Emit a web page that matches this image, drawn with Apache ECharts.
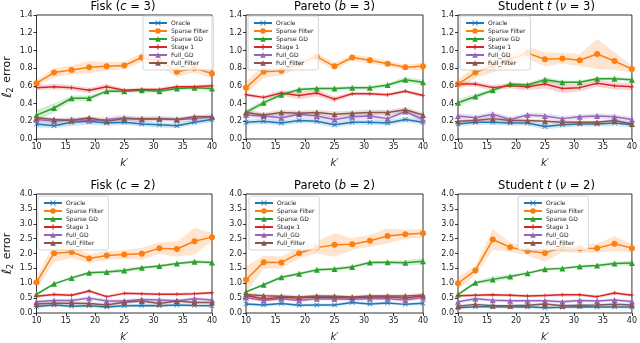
<!DOCTYPE html>
<html>
<head>
<meta charset="utf-8">
<script src="https://cdn.jsdelivr.net/npm/echarts@6/dist/echarts.min.js"></script>
<style>
  html, body { margin: 0; padding: 0; background: #fff; }
  #chart { width: 640px; height: 343px; }
</style>
</head>
<body>
<div id="chart"></div>
<script>
// k' values, shared by every panel
var kVals = [10, 13, 16, 19, 22, 25, 28, 31, 34, 37, 40];
var names = ['Oracle', 'Sparse Filter', 'Sparse GD', 'Stage 1', 'Full_GD', 'Full_Filter'];
var colors = ['#1f77b4', '#ff7f0e', '#2ca02c', '#d62728', '#9467bd', '#8c564b'];
var xTicks = [10, 15, 20, 25, 30, 35, 40];
var yTicksTop = [0, 0.2, 0.4, 0.6, 0.8, 1.0, 1.2, 1.4];
var yTicksBottom = [0, 0.5, 1.0, 1.5, 2.0, 2.5, 3.0, 3.5, 4.0];

// rows follow `names`
var fisk3 = [
  [0.17, 0.15, 0.19, 0.20, 0.18, 0.19, 0.17, 0.16, 0.15, 0.19, 0.22],
  [0.63, 0.75, 0.78, 0.81, 0.82, 0.83, 0.92, 0.88, 0.76, 0.80, 0.74],
  [0.27, 0.35, 0.46, 0.46, 0.54, 0.54, 0.55, 0.54, 0.57, 0.58, 0.57],
  [0.58, 0.59, 0.58, 0.55, 0.59, 0.55, 0.56, 0.56, 0.59, 0.59, 0.60],
  [0.22, 0.20, 0.22, 0.21, 0.22, 0.24, 0.22, 0.23, 0.22, 0.23, 0.25],
  [0.24, 0.22, 0.21, 0.24, 0.20, 0.23, 0.23, 0.23, 0.22, 0.25, 0.25]
];
var fisk3Band = [
  [0.04, 0.03, 0.04, 0.04, 0.03, 0.03, 0.03, 0.03, 0.03, 0.03, 0.03],
  [0.04, 0.05, 0.05, 0.07, 0.05, 0.04, 0.05, 0.05, 0.06, 0.05, 0.06],
  [0.06, 0.05, 0.03, 0.03, 0.02, 0.02, 0.02, 0.02, 0.02, 0.02, 0.03],
  [0.03, 0.03, 0.03, 0.03, 0.03, 0.02, 0.02, 0.02, 0.02, 0.02, 0.02],
  [0.03, 0.03, 0.03, 0.03, 0.03, 0.03, 0.03, 0.03, 0.03, 0.03, 0.04],
  [0.02, 0.02, 0.02, 0.02, 0.02, 0.02, 0.02, 0.02, 0.02, 0.02, 0.02]
];

var pareto3 = [
  [0.19, 0.20, 0.18, 0.21, 0.20, 0.16, 0.19, 0.19, 0.18, 0.22, 0.19],
  [0.58, 0.76, 0.77, 0.85, 0.93, 0.82, 0.92, 0.89, 0.85, 0.81, 0.82],
  [0.30, 0.41, 0.50, 0.56, 0.57, 0.57, 0.58, 0.58, 0.61, 0.67, 0.64],
  [0.50, 0.47, 0.52, 0.49, 0.52, 0.45, 0.51, 0.51, 0.50, 0.54, 0.49],
  [0.27, 0.26, 0.24, 0.28, 0.26, 0.22, 0.25, 0.26, 0.23, 0.31, 0.22],
  [0.30, 0.27, 0.30, 0.29, 0.30, 0.28, 0.29, 0.30, 0.30, 0.33, 0.27]
];
var pareto3Band = [
  [0.03, 0.03, 0.03, 0.03, 0.03, 0.03, 0.03, 0.03, 0.03, 0.03, 0.03],
  [0.07, 0.07, 0.05, 0.05, 0.04, 0.04, 0.03, 0.04, 0.03, 0.03, 0.04],
  [0.03, 0.03, 0.02, 0.02, 0.02, 0.02, 0.02, 0.02, 0.02, 0.03, 0.03],
  [0.02, 0.02, 0.03, 0.04, 0.04, 0.03, 0.02, 0.02, 0.02, 0.02, 0.02],
  [0.03, 0.03, 0.03, 0.03, 0.03, 0.03, 0.03, 0.03, 0.03, 0.03, 0.03],
  [0.03, 0.03, 0.03, 0.03, 0.03, 0.03, 0.03, 0.03, 0.03, 0.03, 0.03]
];

var student3 = [
  [0.17, 0.19, 0.19, 0.18, 0.18, 0.14, 0.16, 0.17, 0.17, 0.18, 0.16],
  [0.62, 0.75, 0.83, 0.90, 0.97, 0.90, 0.91, 0.89, 0.96, 0.88, 0.79],
  [0.41, 0.48, 0.55, 0.62, 0.61, 0.67, 0.64, 0.64, 0.68, 0.68, 0.67],
  [0.62, 0.62, 0.58, 0.60, 0.59, 0.62, 0.57, 0.58, 0.63, 0.60, 0.59],
  [0.26, 0.24, 0.28, 0.22, 0.27, 0.26, 0.23, 0.25, 0.26, 0.25, 0.22],
  [0.20, 0.21, 0.23, 0.21, 0.21, 0.20, 0.19, 0.19, 0.19, 0.21, 0.17]
];
var student3Band = [
  [0.03, 0.03, 0.03, 0.03, 0.03, 0.03, 0.03, 0.03, 0.03, 0.03, 0.03],
  [0.06, 0.06, 0.08, 0.08, 0.07, 0.08, 0.06, 0.07, 0.17, 0.10, 0.04],
  [0.04, 0.03, 0.02, 0.02, 0.02, 0.03, 0.02, 0.02, 0.02, 0.02, 0.02],
  [0.03, 0.03, 0.03, 0.03, 0.04, 0.05, 0.05, 0.04, 0.04, 0.04, 0.04],
  [0.03, 0.03, 0.03, 0.03, 0.03, 0.03, 0.03, 0.03, 0.03, 0.03, 0.03],
  [0.02, 0.02, 0.02, 0.02, 0.02, 0.02, 0.02, 0.02, 0.02, 0.02, 0.02]
];

var fisk2 = [
  [0.22, 0.27, 0.23, 0.24, 0.20, 0.24, 0.25, 0.24, 0.27, 0.25, 0.24],
  [1.03, 2.01, 2.05, 1.83, 1.93, 1.97, 1.99, 2.18, 2.15, 2.41, 2.55],
  [0.63, 0.98, 1.18, 1.35, 1.38, 1.43, 1.52, 1.58, 1.66, 1.72, 1.70],
  [0.56, 0.62, 0.60, 0.74, 0.55, 0.66, 0.65, 0.63, 0.63, 0.65, 0.68],
  [0.38, 0.42, 0.42, 0.50, 0.40, 0.40, 0.45, 0.44, 0.41, 0.48, 0.44],
  [0.30, 0.33, 0.33, 0.32, 0.27, 0.36, 0.40, 0.32, 0.40, 0.35, 0.35]
];
var fisk2Band = [
  [0.05, 0.05, 0.05, 0.05, 0.05, 0.05, 0.05, 0.05, 0.05, 0.05, 0.05],
  [0.20, 0.30, 0.20, 0.15, 0.15, 0.15, 0.20, 0.20, 0.25, 0.45, 0.15],
  [0.04, 0.04, 0.05, 0.05, 0.05, 0.08, 0.05, 0.05, 0.05, 0.06, 0.05],
  [0.05, 0.05, 0.05, 0.05, 0.05, 0.05, 0.05, 0.05, 0.05, 0.05, 0.05],
  [0.06, 0.06, 0.06, 0.06, 0.06, 0.06, 0.06, 0.06, 0.06, 0.06, 0.06],
  [0.06, 0.06, 0.06, 0.06, 0.06, 0.06, 0.06, 0.06, 0.06, 0.06, 0.06]
];

var pareto2 = [
  [0.30, 0.27, 0.32, 0.26, 0.27, 0.27, 0.35, 0.30, 0.34, 0.29, 0.33],
  [1.12, 1.71, 1.70, 2.01, 2.20, 2.29, 2.31, 2.43, 2.59, 2.65, 2.68],
  [0.71, 0.95, 1.20, 1.32, 1.45, 1.48, 1.55, 1.70, 1.71, 1.69, 1.74],
  [0.60, 0.47, 0.53, 0.50, 0.54, 0.52, 0.51, 0.54, 0.55, 0.50, 0.58],
  [0.52, 0.42, 0.48, 0.42, 0.48, 0.47, 0.46, 0.48, 0.48, 0.44, 0.52],
  [0.62, 0.58, 0.56, 0.54, 0.57, 0.56, 0.54, 0.57, 0.57, 0.57, 0.60]
];
var pareto2Band = [
  [0.05, 0.05, 0.05, 0.05, 0.05, 0.05, 0.05, 0.05, 0.05, 0.05, 0.05],
  [0.45, 0.22, 0.20, 0.18, 0.20, 0.40, 0.20, 0.20, 0.25, 0.15, 0.15],
  [0.04, 0.04, 0.05, 0.05, 0.05, 0.06, 0.06, 0.05, 0.05, 0.08, 0.12],
  [0.06, 0.06, 0.06, 0.06, 0.06, 0.06, 0.06, 0.06, 0.06, 0.06, 0.06],
  [0.06, 0.06, 0.06, 0.06, 0.06, 0.06, 0.06, 0.06, 0.06, 0.06, 0.06],
  [0.06, 0.06, 0.06, 0.06, 0.06, 0.06, 0.06, 0.06, 0.06, 0.06, 0.08]
];

var student2 = [
  [0.18, 0.21, 0.21, 0.20, 0.21, 0.18, 0.19, 0.21, 0.20, 0.20, 0.20],
  [1.00, 1.43, 2.47, 2.21, 2.08, 2.02, 2.20, 2.17, 2.18, 2.33, 2.18],
  [0.62, 1.02, 1.13, 1.23, 1.34, 1.47, 1.50, 1.56, 1.60, 1.66, 1.68],
  [0.58, 0.60, 0.61, 0.60, 0.57, 0.59, 0.61, 0.61, 0.55, 0.67, 0.60],
  [0.38, 0.48, 0.43, 0.41, 0.41, 0.41, 0.38, 0.42, 0.40, 0.44, 0.39],
  [0.23, 0.29, 0.24, 0.24, 0.26, 0.30, 0.24, 0.26, 0.27, 0.29, 0.27]
];
var student2Band = [
  [0.05, 0.05, 0.05, 0.05, 0.05, 0.05, 0.05, 0.05, 0.05, 0.05, 0.05],
  [0.20, 0.15, 0.35, 0.15, 0.15, 0.30, 0.15, 0.15, 0.15, 0.25, 0.15],
  [0.05, 0.05, 0.10, 0.06, 0.05, 0.05, 0.05, 0.05, 0.05, 0.06, 0.08],
  [0.05, 0.05, 0.05, 0.05, 0.05, 0.05, 0.05, 0.05, 0.05, 0.05, 0.05],
  [0.05, 0.05, 0.05, 0.05, 0.05, 0.05, 0.05, 0.05, 0.05, 0.05, 0.05],
  [0.05, 0.05, 0.05, 0.05, 0.05, 0.05, 0.05, 0.05, 0.05, 0.05, 0.05]
];

var xMark = 'path://M1,0L5,4L9,0L10,1L6,5L10,9L9,10L5,6L1,10L0,9L4,5L0,1Z';
var plusMark = 'path://M4,0H6V4H10V6H6V10H4V6H0V4H4Z';
var symbols = [xMark, 'circle', 'triangle', plusMark, 'triangle', 'triangle'];
var symbolSizes = [5, 6, 6, 4, 6, 6];

var font = 'DejaVu Sans';

var panels = [
  { mean: fisk3, band: fisk3Band, title: ['Fisk (', 'c', ' = 3)'], grid: { left: 34, top: 15, width: 178, height: 124 }, legend: { left: 143, top: 16 }, top: true, ylab: true },
  { mean: pareto3, band: pareto3Band, title: ['Pareto (', 'b', ' = 3)'], grid: { left: 246, top: 15, width: 177, height: 124 }, legend: { left: 248, top: 16 }, top: true },
  { mean: student3, band: student3Band, title: ['Student ', 't', ' (', 'ν', ' = 3)'], grid: { left: 458, top: 15, width: 177, height: 124 }, legend: { left: 460, top: 16 }, top: true },
  { mean: fisk2, band: fisk2Band, title: ['Fisk (', 'c', ' = 2)'], grid: { left: 34, top: 194, width: 178, height: 125 }, legend: { left: 38, top: 196 }, top: false, ylab: true },
  { mean: pareto2, band: pareto2Band, title: ['Pareto (', 'b', ' = 2)'], grid: { left: 246, top: 194, width: 177, height: 125 }, legend: { left: 249, top: 196 }, top: false },
  { mean: student2, band: student2Band, title: ['Student ', 't', ' (', 'ν', ' = 2)'], grid: { left: 458, top: 194, width: 177, height: 125 }, legend: { left: 518, top: 196 }, top: false }
];

function titleText(parts) {
  // odd pieces are math symbols, set in italic
  return parts.map(function (p, i) {
    return i % 2 === 1 ? '{i|' + p + '}' : '{n|' + p + '}';
  }).join('');
}

var grids = [], xAxes = [], yAxes = [], titles = [], legends = [], series = [];

panels.forEach(function (p, g) {
  var yTicks = p.top ? yTicksTop : yTicksBottom;
  grids.push({
    left: p.grid.left, top: p.grid.top, width: p.grid.width, height: p.grid.height,
    show: true, borderColor: '#000', borderWidth: 0.8, backgroundColor: 'transparent',
    containLabel: false
  });
  xAxes.push({
    type: 'value', gridIndex: g,
    min: xTicks[0], max: xTicks[xTicks.length - 1], interval: 5,
    axisLine: { show: false },
    axisTick: { show: true, length: 3, lineStyle: { color: '#000', width: 0.8 } },
    axisLabel: { fontSize: 8, color: '#222', fontFamily: font, margin: 4 },
    splitLine: { show: false },
    name: "k′", nameLocation: 'middle', nameGap: 19,
    nameTextStyle: { fontSize: 10, fontStyle: 'italic', color: '#222', fontFamily: font }
  });
  var yAxis = {
    type: 'value', gridIndex: g,
    min: yTicks[0], max: yTicks[yTicks.length - 1], interval: yTicks[1] - yTicks[0],
    axisLine: { show: false },
    axisTick: { show: true, length: 3, lineStyle: { color: '#000', width: 0.8 } },
    axisLabel: { fontSize: 8, color: '#222', fontFamily: font, margin: 4,
      formatter: function (v) { return v.toFixed(1); } },
    splitLine: { show: false }
  };
  if (p.ylab) {
    yAxis.name = '{l|ℓ}{s|2}{n| error}';
    yAxis.nameLocation = 'middle';
    yAxis.nameGap = 22;
    yAxis.nameRotate = 90;
    yAxis.nameTextStyle = {
      fontFamily: font, color: '#111',
      rich: {
        l: { fontSize: 13, fontStyle: 'italic', fontFamily: font, color: '#111' },
        s: { fontSize: 8, fontFamily: font, color: '#111', verticalAlign: 'bottom', padding: [6, 1, 0, 0] },
        n: { fontSize: 11, fontFamily: font, color: '#111' }
      }
    };
  }
  yAxes.push(yAxis);

  titles.push({
    text: titleText(p.title),
    left: p.grid.left + p.grid.width / 2,
    top: p.grid.top - 14,
    textAlign: 'center',
    padding: 0,
    textStyle: {
      fontWeight: 'normal', color: '#000', fontFamily: font, fontSize: 11.5, lineHeight: 13,
      rich: {
        n: { fontSize: 11.5, lineHeight: 13, fontFamily: font, color: '#000' },
        i: { fontSize: 11.5, lineHeight: 13, fontFamily: font, color: '#000', fontStyle: 'italic' }
      }
    }
  });

  legends.push({
    data: names,
    orient: 'vertical',
    left: p.legend.left, top: p.legend.top,
    itemWidth: 18, itemHeight: 7, itemGap: 2,
    padding: [4, 5, 4, 5],
    borderColor: '#ccc', borderWidth: 0.8, borderRadius: 2,
    backgroundColor: 'rgba(255,255,255,0.8)',
    textStyle: { fontSize: 6, fontFamily: font, color: '#222', padding: [0, 0, 0, -1] },
    selectedMode: false
  });

  // shaded bands, drawn through the grid's own scales
  series.push({
    type: 'custom', xAxisIndex: g, yAxisIndex: g, silent: true, z: 1,
    data: names.map(function (n, i) { return [kVals[0], 0, i]; }),
    encode: { x: 0, y: 1 },
    renderItem: function (params, api) {
      var i = api.value(2);
      var m = p.mean[i], b = p.band[i];
      var pts = [];
      kVals.forEach(function (k, j) { pts.push(api.coord([k, m[j] + b[j]])); });
      for (var j = kVals.length - 1; j >= 0; j--) pts.push(api.coord([kVals[j], m[j] - b[j]]));
      return { type: 'polygon', shape: { points: pts }, style: { fill: colors[i], opacity: 0.2 } };
    }
  });

  names.forEach(function (n, i) {
    series.push({
      name: n, type: 'line', xAxisIndex: g, yAxisIndex: g, z: 2,
      data: kVals.map(function (k, j) { return [k, p.mean[i][j]]; }),
      symbol: symbols[i], symbolSize: symbolSizes[i], showSymbol: true,
      lineStyle: { width: 1.5, color: colors[i] },
      itemStyle: { color: colors[i] },
      emphasis: { disabled: true }
    });
  });
});

var chart = echarts.init(document.getElementById('chart'), null, { renderer: 'canvas' });
chart.setOption({
  animation: false,
  backgroundColor: '#fff',
  title: titles,
  legend: legends,
  grid: grids,
  xAxis: xAxes,
  yAxis: yAxes,
  series: series
});
</script>
</body>
</html>
